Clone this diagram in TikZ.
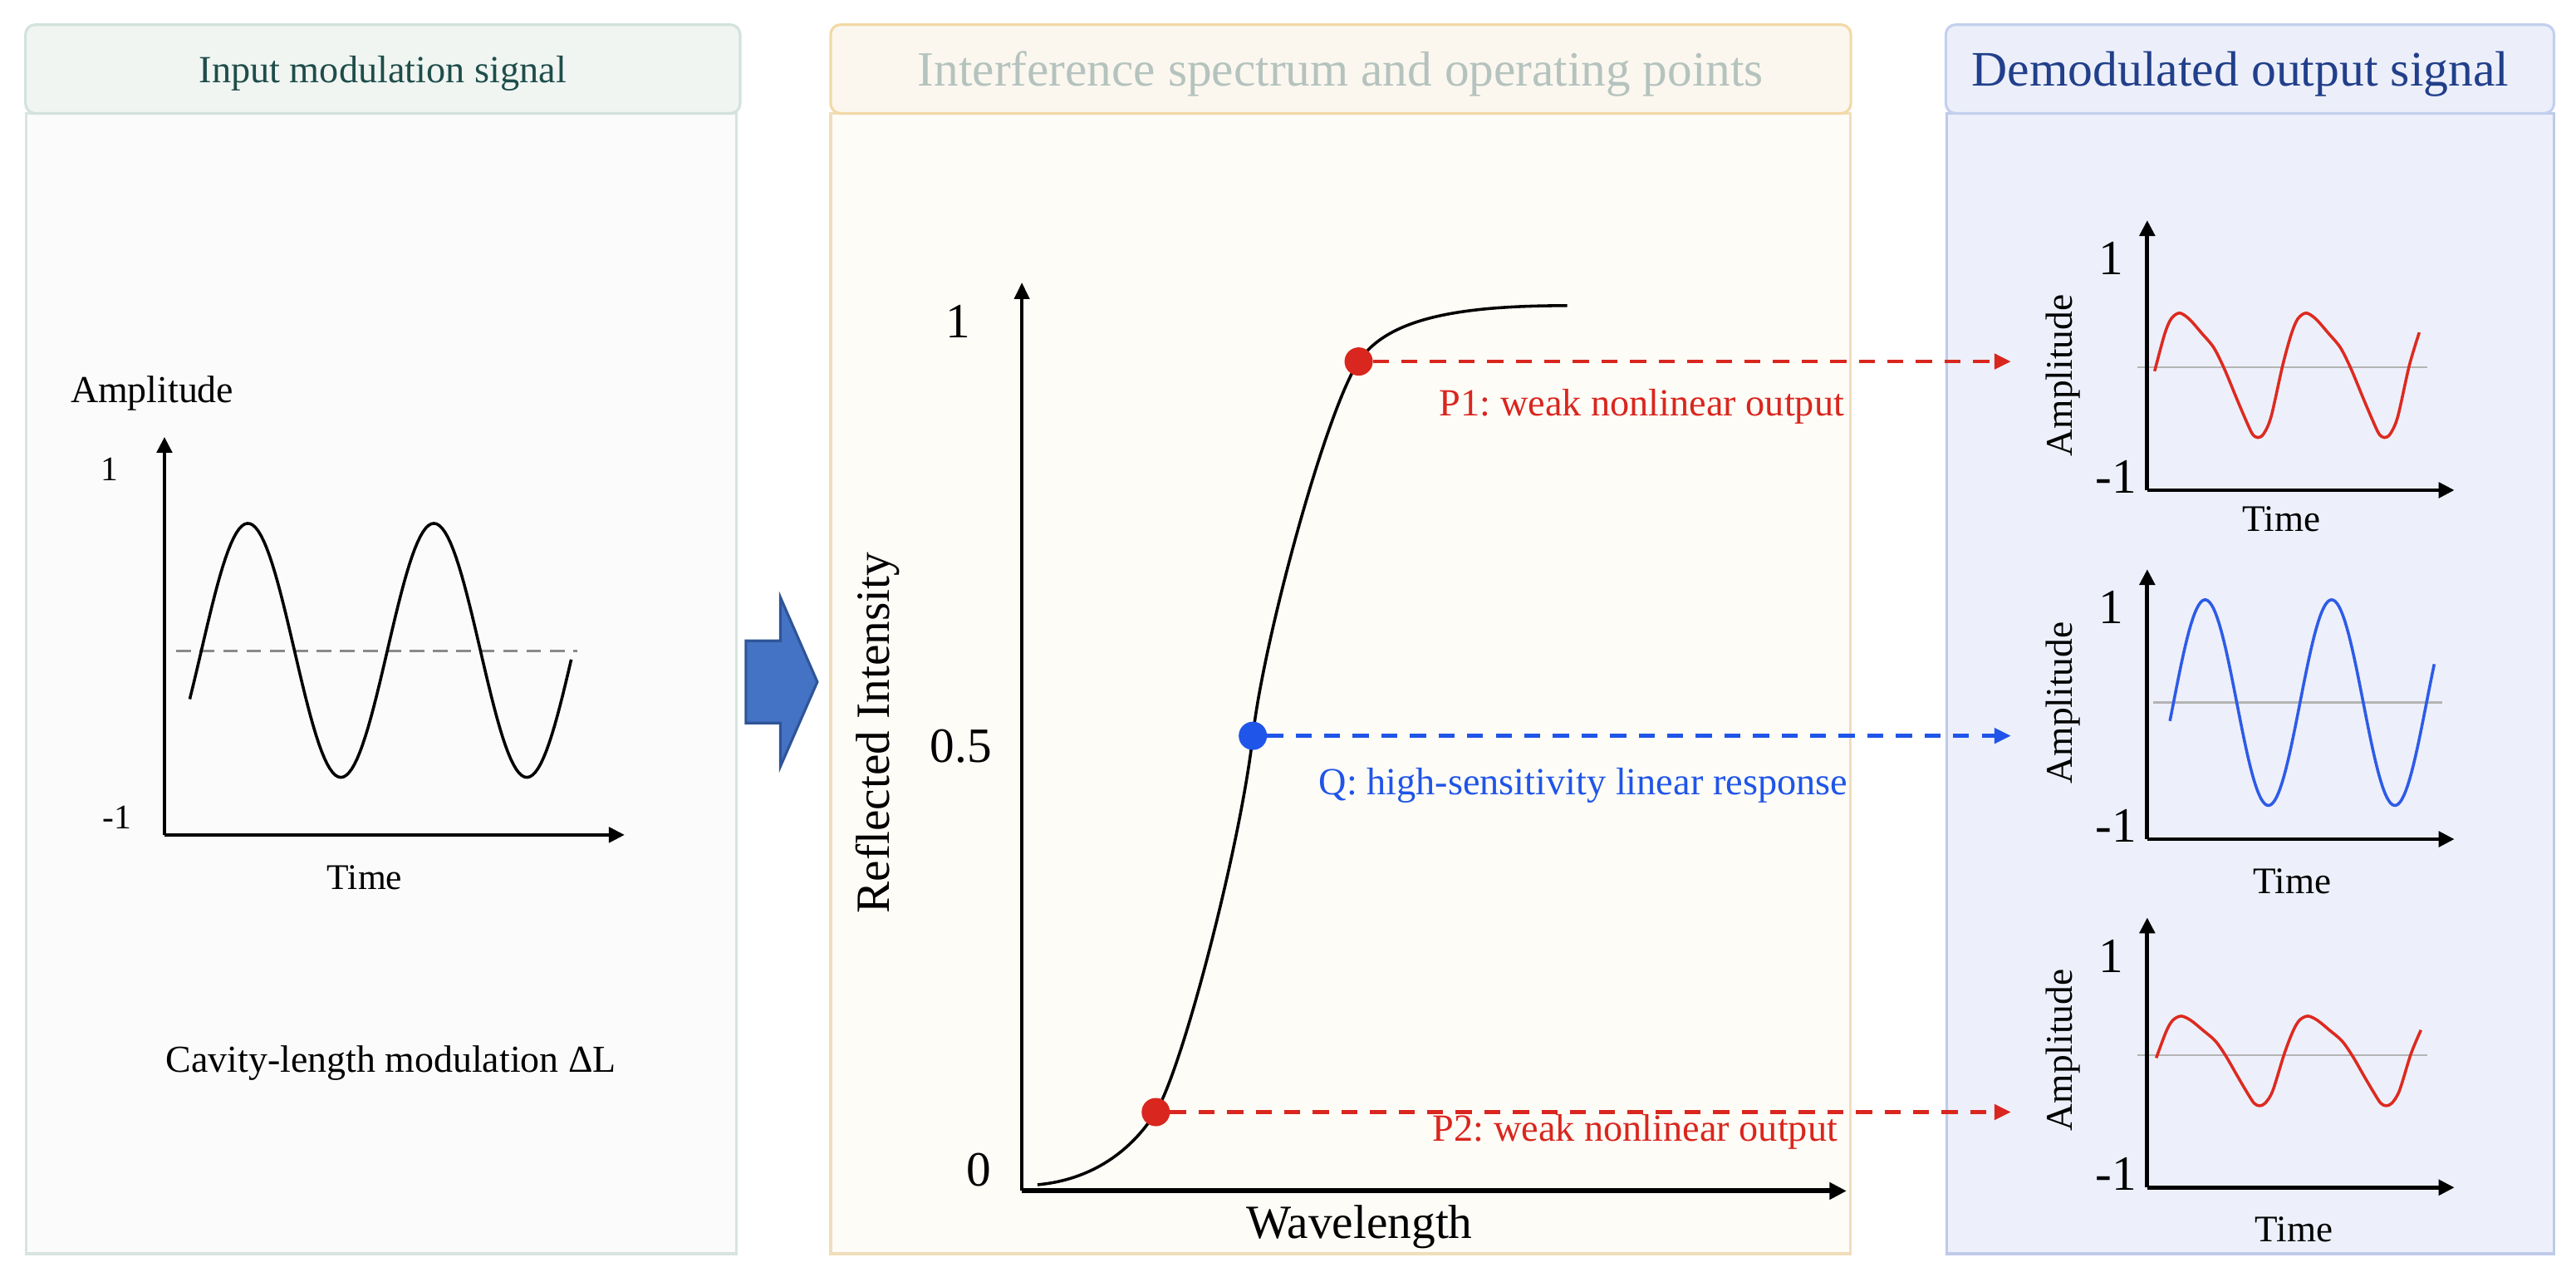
\documentclass[tikz,border=0pt]{standalone}
\usepackage{fontspec}
\setmainfont{Liberation Serif}
\usetikzlibrary{arrows.meta}
\frenchspacing
\definecolor{lhfill}{HTML}{F0F5F2}
\definecolor{lhdraw}{HTML}{D3E2DC}
\definecolor{lbfill}{HTML}{FBFBFB}
\definecolor{lbdraw}{HTML}{D8E4E0}
\definecolor{ltext}{HTML}{1E4D4A}
\definecolor{mhfill}{HTML}{FBF7EF}
\definecolor{mhdraw}{HTML}{F2D9A6}
\definecolor{mbfill}{HTML}{FEFCF7}
\definecolor{mbdraw}{HTML}{F0DEBA}
\definecolor{mtext}{HTML}{B5C3BE}
\definecolor{rhfill}{HTML}{ECEFFA}
\definecolor{rhdraw}{HTML}{C3D0EE}
\definecolor{rbfill}{HTML}{EDF0FB}
\definecolor{rbdraw}{HTML}{BECAE8}
\definecolor{rtext}{HTML}{213F8A}
\definecolor{ptred}{HTML}{D9261E}
\definecolor{ptblue}{HTML}{1F55E8}
\definecolor{curvered}{HTML}{DD2A20}
\definecolor{curveblue}{HTML}{2E5BE6}
\definecolor{arrowfill}{HTML}{4472C4}
\definecolor{arrowdraw}{HTML}{2F5597}
\definecolor{midgray}{HTML}{B4B4B4}
\definecolor{dashgray}{HTML}{8A8A8A}
\newcommand{\myfs}[1]{\fontsize{#1pt}{#1pt}\selectfont}
\newcommand{\redwave}{(4.5,-2.3) (10.5,20) (14.5,29.5) (19.6,33.1) (25.5,29.5) (33,21) (40.5,12) (47,-1) (54.5,-19.1) (60,-32) (64,-40.5) (67.3,-42.7) (70.8,-40.5) (75.4,-30) (82.4,1.1) (87.6,20) (91.6,29.5) (96.7,33.1) (102.6,29.5) (110.1,21) (117.6,12) (124.1,-1) (131.6,-19.1) (137.1,-32) (141.1,-40.5) (144.4,-42.7) (147.9,-40.5) (152.5,-30) (159.5,1.1) (165.6,21.3)}
\begin{document}
\begin{tikzpicture}[x=0.5pt,y=-0.5pt,
  every node/.style={inner sep=0pt, outer sep=0pt},
  panelbody/.style={line width=0.8pt},
  panelhead/.style={line width=0.8pt, rounded corners=3pt},
  ax/.style={line width=1.1pt, -{Triangle[length=4.8pt,width=4.6pt]}},
  axthin/.style={line width=0.9pt, -{Triangle[length=5pt,width=4.6pt]}},
  axthick/.style={line width=1.5pt, -{Triangle[length=5.2pt,width=5pt]}},
  dotnode/.style={circle, minimum size=8.6pt, inner sep=0pt},
  dasharrow/.style={line width=1.1pt, dash pattern=on 4.9pt off 3.8pt, -{Triangle[length=5pt,width=4.6pt]}},
  midline/.style={draw=midgray, line width=0.6pt},
  sig/.style={line width=0.9pt},
  bigarrow/.style={fill=arrowfill, draw=arrowdraw, line width=0.8pt, line join=miter}
]
\useasboundingbox (0,0) rectangle (1568,777);

% ---------- panels ----------
\draw[panelbody, draw=lbdraw, fill=lbfill] (16,69) rectangle (448.2,763);
\draw[panelhead, draw=lhdraw, fill=lhfill] (15.5,15) rectangle (450.5,69);
\draw[panelbody, draw=mbdraw, fill=mbfill] (505.6,69) rectangle (1126.4,763);
\draw[panelhead, draw=mhdraw, fill=mhfill] (505.6,15) rectangle (1126.6,69);
\draw[panelbody, draw=rbdraw, fill=rbfill] (1185,69) rectangle (1554.5,763);
\draw[panelhead, draw=rhdraw, fill=rhfill] (1184.4,15) rectangle (1554.6,69);

\node[font=\myfs{11.7}, text=ltext] (ltitle) at (233,44.5) {Input modulation signal};
\node[font=\myfs{15}, text=mtext] (mtitle) at (816,45) {Interference spectrum and operating points};
\node[font=\myfs{15.1}, text=rtext] (rtitle) at (1363.7,45) {Demodulated output signal};

% ---------- left plot ----------
\coordinate (lo) at (100.1,508.1);
\coordinate (lytip) at (100.1,265.9);
\coordinate (lxtip) at (380.2,508.1);
\draw[dashgray, line width=0.8pt, dash pattern=on 4.5pt off 2.6pt] (107.4,396) -- (351.2,396);
\draw[sig, domain=115.5:347.7, samples=140] plot (\x, {395.8-77.3*sin(3.18021*(\x-122.6))});
\draw[ax] (lo) -- (lytip);
\draw[ax] (lo) -- (lxtip);
\node[font=\myfs{11.6}] (lamp) at (92.6,239.5) {Amplitude};
\node[font=\myfs{10.5}] (lone) at (66.8,285.8) {1};
\node[font=\myfs{10.5}] (lmone) at (71.1,497.4) {-1};
\node[font=\myfs{11}] (ltime) at (222,534) {Time};
\node[font=\myfs{11.6}] (lcav) at (238,647) {Cavity-length modulation ΔL};

% ---------- big arrow ----------
\draw[bigarrow] (454,390) -- (475,390) -- (475,363.5) -- (497.5,415) -- (475,466.5) -- (475,440) -- (454,440) -- cycle;

% ---------- middle plot ----------
\coordinate (mo) at (622,724.8);
\coordinate (mytip) at (622,172);
\coordinate (mxtip) at (1124,724.8);
\draw[axthin] (mo) -- (mytip);
\draw[axthick] (mo) -- (mxtip);
\node[font=\myfs{15}] (mone) at (583,195.7) {1};
\node[font=\myfs{15}] (mhalf) at (585,454) {0.5};
\node[font=\myfs{15}] (mzero) at (595.8,712.2) {0};
\node[font=\myfs{14.5}, rotate=90] (mylab) at (534,446) {Reflected Intensity};
\node[font=\myfs{14.5}] (mxlab) at (827.4,746.8) {Wavelength};

\draw[line width=0.9pt] (631.5,721) .. controls (665,718) and (689,700) .. (703.5,676.8)
  .. controls (719.5,651.2) and (755,515) .. (762.6,447.8)
  .. controls (769,390) and (807,250) .. (827,220)
  .. controls (845,193) and (890,186) .. (954,186);

\node[dotnode, fill=ptred] (p1) at (827,220) {};
\node[dotnode, fill=ptblue] (q) at (762.6,447.8) {};
\node[dotnode, fill=ptred] (p2) at (703.5,676.8) {};
\coordinate (p1end) at (1224,220);
\coordinate (qend) at (1224,447.8);
\coordinate (p2end) at (1224,676.8);
\draw[dasharrow, draw=ptred] (p1) -- (p1end);
\draw[dasharrow, draw=ptblue] (q) -- (qend);
\draw[dasharrow, draw=ptred] (p2) -- (p2end);
\node[font=\myfs{11.7}, text=ptred, anchor=east] (p1lab) at (1122.5,247.6) {P1: weak nonlinear output};
\node[font=\myfs{11.7}, text=ptblue, anchor=east] (qlab) at (1124.5,477.8) {Q: high-sensitivity linear response};
\node[font=\myfs{11.7}, text=ptred, anchor=east] (p2lab) at (1118.5,689) {P2: weak nonlinear output};

% ---------- right plot 1 ----------
\begin{scope}[shift={(1307,298.3)}]
  \coordinate (r1o) at (0,0);
  \coordinate (r1y) at (0,-164.3);
  \coordinate (r1x) at (187,0);
  \draw[midline] (-6,-74.7) -- (170.7,-74.7);
  \begin{scope}[shift={(0,-74.7)}, yscale=-1]
    \draw[sig, draw=curvered] plot[smooth, tension=0.5] coordinates {\redwave};
  \end{scope}
  \draw[ax, line width=1.2pt] (r1o) -- (r1y);
  \draw[ax, line width=1.2pt] (r1o) -- (r1x);
  \node[font=\myfs{15}] (r1one) at (-22,-141.3) {1};
  \node[font=\myfs{15}] (r1mone) at (-19,-8.2) {-1};
  \node[font=\myfs{11.5}, rotate=90] (r1amp) at (-51.3,-69.8) {Amplitude};
  \node[font=\myfs{11.4}] (r1time) at (81.8,17.7) {Time};
\end{scope}

% ---------- right plot 2 ----------
\begin{scope}[shift={(1307,510.7)}]
  \coordinate (r2o) at (0,0);
  \coordinate (r2y) at (0,-164.3);
  \coordinate (r2x) at (187,0);
  \draw[midline] (3.4,-83.1) -- (179.6,-83.1);
  \draw[sig, draw=curveblue, domain=13.8:174.7, samples=140] plot (\x, {-83.1-62.6*sin(4.67532*(\x-16))});
  \draw[ax, line width=1.2pt] (r2o) -- (r2y);
  \draw[ax, line width=1.2pt] (r2o) -- (r2x);
  \node[font=\myfs{15}] (r2one) at (-22,-141.2) {1};
  \node[font=\myfs{15}] (r2mone) at (-19,-8.2) {-1};
  \node[font=\myfs{11.5}, rotate=90] (r2amp) at (-51.3,-83) {Amplitude};
  \node[font=\myfs{11.4}] (r2time) at (88.2,25.7) {Time};
\end{scope}

% ---------- right plot 3 ----------
\begin{scope}[shift={(1307,722.7)}]
  \coordinate (r3o) at (0,0);
  \coordinate (r3y) at (0,-164.3);
  \coordinate (r3x) at (187,0);
  \draw[midline] (-6,-80.5) -- (170.7,-80.5);
  \begin{scope}[shift={(1,-80.5)}, yscale=-0.72]
    \draw[sig, draw=curvered] plot[smooth, tension=0.5] coordinates {\redwave};
  \end{scope}
  \draw[ax, line width=1.2pt] (r3o) -- (r3y);
  \draw[ax, line width=1.2pt] (r3o) -- (r3x);
  \node[font=\myfs{15}] (r3one) at (-22,-140.8) {1};
  \node[font=\myfs{15}] (r3mone) at (-19,-8.2) {-1};
  \node[font=\myfs{11.5}, rotate=90] (r3amp) at (-51.3,-83.7) {Amplitude};
  \node[font=\myfs{11.4}] (r3time) at (89.4,25.6) {Time};
\end{scope}
\end{tikzpicture}
\end{document}
